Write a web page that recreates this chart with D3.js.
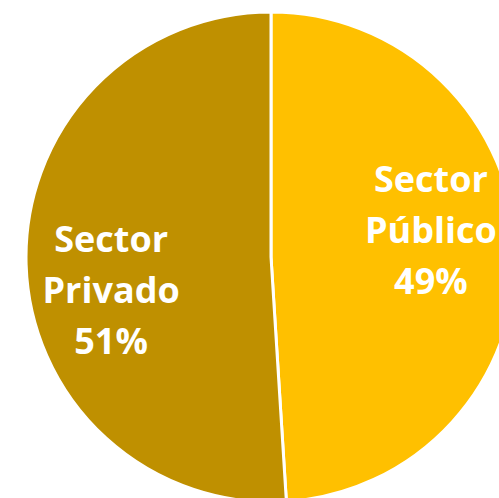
<!DOCTYPE html>
<html>
<head>
<meta charset="utf-8">
<script src="https://cdn.jsdelivr.net/npm/d3@7"></script>
<style>
    html, body { margin: 0; padding: 0; background: #ffffff; overflow: hidden; }
    svg { display: block; }
</style>
</head>
<body>
<div id="chart"></div>
<script>

// data
var sectores = ["Sector Público", "Sector Privado"];
var porcentajes = [49, 51];
var colores = ["#FFC000", "#BF9000"];

// layout
var width = 499, height = 498;
var cx = 271, cy = 257, radius = 245;
var labelRadius = 160;
var labelShift = [-22, 28];   // manual vertical nudge of each label, as in the original
var lineHeight = 51;

var svg = d3.select("#chart").append("svg")
    .attr("width", width)
    .attr("height", height);

var g = svg.append("g")
    .attr("transform", "translate(" + cx + "," + cy + ")");

var pie = d3.pie()
    .sort(null)
    .value(function(d) { return d; });

var arcs = pie(porcentajes);

var arc = d3.arc()
    .innerRadius(0)
    .outerRadius(radius);

var labelArc = d3.arc()
    .innerRadius(labelRadius)
    .outerRadius(labelRadius);

g.selectAll(".slice")
    .data(arcs)
    .enter().append("path")
    .attr("class", "slice")
    .attr("d", arc)
    .attr("fill", function(d, i) { return colores[i]; })
    .attr("stroke", "#ffffff")
    .attr("stroke-width", 3)
    .attr("stroke-linejoin", "round");

// labels: two words on two lines, then the percentage
var labels = g.selectAll(".label")
    .data(arcs)
    .enter().append("text")
    .attr("class", "label")
    .attr("text-anchor", "middle")
    .attr("fill", "#ffffff")
    .style("font-family", "'Open Sans', 'DejaVu Sans', sans-serif")
    .style("font-weight", "bold")
    .style("font-size", "36px")
    .attr("transform", function(d, i) {
        var c = labelArc.centroid(d);
        return "translate(" + c[0] + "," + (c[1] + labelShift[i]) + ")";
    });

labels.each(function(d, i) {
    var words = sectores[i].split(" ");
    var lines = [words[0], words[1], porcentajes[i] + "%"];
    var t = d3.select(this);
    lines.forEach(function(line, k) {
        t.append("tspan")
            .attr("x", 0)
            .attr("y", (k - 1) * lineHeight + 13)
            .text(line);
    });
});

</script>
</body>
</html>
